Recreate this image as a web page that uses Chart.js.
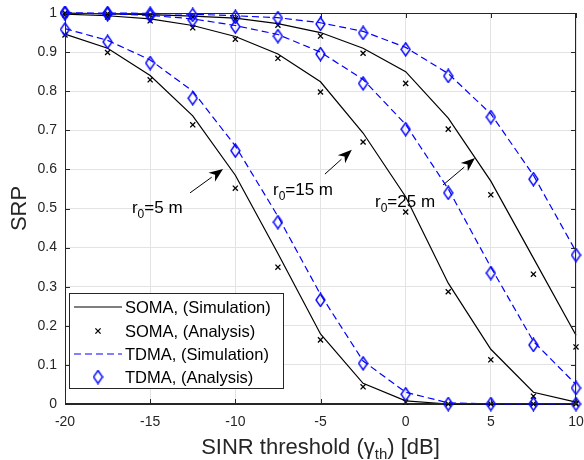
<!DOCTYPE html>
<html>
<head>
<meta charset="utf-8">
<script src="https://cdn.jsdelivr.net/npm/chart.js@4.4.0/dist/chart.umd.min.js"></script>
<style>
  html, body { margin: 0; padding: 0; background: #fff; }
  #wrap { width: 584px; height: 460px; }
</style>
</head>
<body>
<div id="wrap"><canvas id="c" width="584" height="460"></canvas></div>
<script>
// SINR threshold grid (dB)
const sinrDb = [-20, -17.5, -15, -12.5, -10, -7.5, -5, -2.5, 0, 2.5, 5, 7.5, 10];

// SOMA, simulation (solid lines)
const somaSimR5  = [0.946, 0.910, 0.840, 0.737, 0.585, 0.385, 0.179, 0.053, 0.008, 0.000, 0.000, 0.000, 0.000];
const somaSimR15 = [0.997, 0.993, 0.985, 0.968, 0.940, 0.895, 0.824, 0.693, 0.530, 0.309, 0.140, 0.030, 0.005];
const somaSimR25 = [1.000, 0.998, 0.996, 0.992, 0.987, 0.973, 0.950, 0.910, 0.850, 0.731, 0.570, 0.373, 0.176];

// SOMA, analysis (x markers)
const somaAnaR5  = [0.944, 0.899, 0.829, 0.714, 0.552, 0.350, 0.164, 0.044, 0.005, 0.000, 0.000, 0.000, 0.000];
const somaAnaR15 = [0.995, 0.990, 0.980, 0.962, 0.933, 0.884, 0.798, 0.670, 0.491, 0.287, 0.113, 0.020, 0.002];
const somaAnaR25 = [1.000, 0.998, 0.995, 0.990, 0.985, 0.969, 0.941, 0.897, 0.820, 0.703, 0.535, 0.332, 0.146];

// TDMA, simulation (dashed lines)
const tdmaSimR5  = [0.960, 0.930, 0.880, 0.800, 0.660, 0.480, 0.280, 0.110, 0.030, 0.003, 0.000, 0.000, 0.000];
const tdmaSimR15 = [1.000, 0.998, 0.994, 0.985, 0.968, 0.945, 0.900, 0.830, 0.715, 0.550, 0.350, 0.160, 0.050];
const tdmaSimR25 = [1.000, 1.000, 0.999, 0.997, 0.993, 0.988, 0.975, 0.953, 0.912, 0.845, 0.742, 0.585, 0.390];

// TDMA, analysis (diamond markers)
const tdmaAnaR5  = [0.958, 0.926, 0.872, 0.782, 0.648, 0.465, 0.266, 0.104, 0.025, 0.000, 0.000, 0.000, 0.000];
const tdmaAnaR15 = [1.000, 0.997, 0.993, 0.982, 0.965, 0.941, 0.895, 0.820, 0.703, 0.540, 0.335, 0.151, 0.041];
const tdmaAnaR25 = [1.000, 1.000, 0.998, 0.995, 0.990, 0.987, 0.972, 0.949, 0.907, 0.839, 0.734, 0.575, 0.381];

// Axis ticks and labels
const xTickValues = [-20, -15, -10, -5, 0, 5, 10];
const yTickLabels = ['0', '0.1', '0.2', '0.3', '0.4', '0.5', '0.6', '0.7', '0.8', '0.9', '1'];
const legendLabels = ['SOMA, (Simulation)', 'SOMA, (Analysis)', 'TDMA, (Simulation)', 'TDMA, (Analysis)'];
const radiusLabels = ['5 m', '15 m', '25 m'];

// Label / arrow placement in data coordinates
const radiusNotes = [
  { text: radiusLabels[0], at: [-16.07, 0.504], tail: [-12.66, 0.540], tip: [-10.72, 0.601] },
  { text: radiusLabels[1], at: [-7.79, 0.550], tail: [-4.74, 0.588], tip: [-3.16, 0.650] },
  { text: radiusLabels[2], at: [-1.80, 0.519], tail: [2.19, 0.560], tip: [4.07, 0.629] }
];

const FONT = '"Liberation Sans", Arial, Helvetica, sans-serif';
const AXIS_COLOR = '#262626';
const BLUE = '#0000ff';

function pts(ys) { return sinrDb.map((x, i) => ({ x: x, y: ys[i] })); }

// Tall diamond marker
function makeDiamond() {
  const w = 11, h = 15;
  const cv = document.createElement('canvas');
  cv.width = w; cv.height = h;
  const g = cv.getContext('2d');
  g.strokeStyle = BLUE;
  g.lineWidth = 1.4;
  g.beginPath();
  g.moveTo(w / 2, 1);
  g.lineTo(w - 1, h / 2);
  g.lineTo(w / 2, h - 1);
  g.lineTo(1, h / 2);
  g.closePath();
  g.stroke();
  return cv;
}
const diamond = makeDiamond();

function simLine(ys, color, dashed) {
  return {
    data: pts(ys), borderColor: color, borderWidth: 1.2, pointRadius: 0,
    borderDash: dashed ? [7, 4] : [], fill: false, tension: 0,
    order: dashed ? 1 : 3, clip: false
  };
}
function somaMarks(ys) {
  return {
    data: pts(ys), showLine: false, pointStyle: 'crossRot', pointRadius: 3.6,
    pointBorderColor: '#000', pointBorderWidth: 1.3, borderColor: '#000',
    order: 2, clip: false
  };
}
function tdmaMarks(ys) {
  return {
    data: pts(ys), showLine: false, pointStyle: diamond, pointRadius: 6,
    borderColor: BLUE, order: 0, clip: false
  };
}

const datasets = [
  simLine(somaSimR5, '#000', false), simLine(somaSimR15, '#000', false), simLine(somaSimR25, '#000', false),
  somaMarks(somaAnaR5), somaMarks(somaAnaR15), somaMarks(somaAnaR25),
  simLine(tdmaSimR5, BLUE, true), simLine(tdmaSimR15, BLUE, true), simLine(tdmaSimR25, BLUE, true),
  tdmaMarks(tdmaAnaR5), tdmaMarks(tdmaAnaR15), tdmaMarks(tdmaAnaR25)
];

// Box, inner ticks, axis titles, radius notes and legend
const decorations = {
  id: 'decorations',
  afterDatasetsDraw(chart) {
    const ctx = chart.ctx;
    const a = chart.chartArea;
    const xs = chart.scales.x, ys = chart.scales.y;
    ctx.save();

    // frame
    ctx.strokeStyle = AXIS_COLOR;
    ctx.lineWidth = 1;
    ctx.strokeRect(a.left + 0.5, a.top + 0.5, a.right - a.left - 1, a.bottom - a.top - 1);

    // inward tick marks on all four sides
    const tl = 5;
    ctx.beginPath();
    xTickValues.forEach(v => {
      const px = Math.round(xs.getPixelForValue(v)) + 0.5;
      ctx.moveTo(px, a.bottom); ctx.lineTo(px, a.bottom - tl);
      ctx.moveTo(px, a.top); ctx.lineTo(px, a.top + tl);
    });
    yTickLabels.forEach((_, i) => {
      const py = Math.round(ys.getPixelForValue(i / 10)) + 0.5;
      ctx.moveTo(a.left, py); ctx.lineTo(a.left + tl, py);
      ctx.moveTo(a.right, py); ctx.lineTo(a.right - tl, py);
    });
    ctx.stroke();

    // x-axis title with subscript
    ctx.fillStyle = AXIS_COLOR;
    ctx.textBaseline = 'alphabetic';
    const big = '22px ' + FONT, small = '15px ' + FONT;
    const parts = [['SINR threshold (\u03B3', big, 0], ['th', small, 5], [') [dB]', big, 0]];
    let total = 0;
    parts.forEach(p => { ctx.font = p[1]; total += ctx.measureText(p[0]).width; });
    let cx = (a.left + a.right) / 2 - total / 2;
    const base = 454;
    parts.forEach(p => {
      ctx.font = p[1];
      ctx.textAlign = 'left';
      ctx.fillText(p[0], cx, base + p[2]);
      cx += ctx.measureText(p[0]).width;
    });

    // y-axis title
    ctx.save();
    ctx.translate(20, (a.top + a.bottom) / 2);
    ctx.rotate(-Math.PI / 2);
    ctx.font = big;
    ctx.textAlign = 'center';
    ctx.textBaseline = 'middle';
    ctx.fillText('SRP', 0, 0);
    ctx.restore();

    // radius notes with arrows
    ctx.fillStyle = '#000';
    ctx.strokeStyle = '#000';
    radiusNotes.forEach(n => {
      const tx = xs.getPixelForValue(n.at[0]);
      const ty = ys.getPixelForValue(n.at[1]) + 6;
      const segs = [['r', '17px ' + FONT, 0], ['0', '12px ' + FONT, 5], ['=' + n.text, '17px ' + FONT, 0]];
      let x = tx;
      ctx.textAlign = 'left';
      ctx.textBaseline = 'alphabetic';
      segs.forEach(s => {
        ctx.font = s[1];
        ctx.fillText(s[0], x, ty + s[2]);
        x += ctx.measureText(s[0]).width;
      });
      const x0 = xs.getPixelForValue(n.tail[0]), y0 = ys.getPixelForValue(n.tail[1]);
      const x1 = xs.getPixelForValue(n.tip[0]), y1 = ys.getPixelForValue(n.tip[1]);
      const ang = Math.atan2(y1 - y0, x1 - x0);
      const hl = 14, hw = 5.5;
      const bx = x1 - hl * Math.cos(ang), by = y1 - hl * Math.sin(ang);
      ctx.lineWidth = 1;
      ctx.beginPath(); ctx.moveTo(x0, y0); ctx.lineTo(bx, by); ctx.stroke();
      ctx.beginPath();
      ctx.moveTo(x1, y1);
      ctx.lineTo(bx + hw * Math.sin(ang), by - hw * Math.cos(ang));
      ctx.lineTo(x1 - hl * 0.7 * Math.cos(ang), y1 - hl * 0.7 * Math.sin(ang));
      ctx.lineTo(bx - hw * Math.sin(ang), by + hw * Math.cos(ang));
      ctx.closePath();
      ctx.fill();
    });

    // legend
    const lx = 69, ly = 293, lw = 214, lh = 95;
    ctx.fillStyle = '#fff';
    ctx.fillRect(lx, ly, lw, lh);
    ctx.strokeStyle = AXIS_COLOR;
    ctx.lineWidth = 1;
    ctx.strokeRect(lx + 0.5, ly + 0.5, lw, lh);
    const rows = [307, 331, 354, 377];
    ctx.font = '16.5px ' + FONT;
    ctx.textAlign = 'left';
    ctx.textBaseline = 'middle';
    rows.forEach((ry, i) => {
      ctx.fillStyle = '#000';
      ctx.fillText(legendLabels[i], 125, ry + 1);
      if (i === 0 || i === 2) {
        ctx.strokeStyle = i === 0 ? '#000' : BLUE;
        ctx.lineWidth = 1.2;
        ctx.setLineDash(i === 2 ? [7, 4] : []);
        ctx.beginPath(); ctx.moveTo(74, ry); ctx.lineTo(122, ry); ctx.stroke();
        ctx.setLineDash([]);
      } else if (i === 1) {
        ctx.strokeStyle = '#000';
        ctx.lineWidth = 1.3;
        const r = 2.6;
        ctx.beginPath();
        ctx.moveTo(98 - r, ry - r); ctx.lineTo(98 + r, ry + r);
        ctx.moveTo(98 + r, ry - r); ctx.lineTo(98 - r, ry + r);
        ctx.stroke();
      } else {
        ctx.drawImage(diamond, 98 - diamond.width / 2, ry - diamond.height / 2);
      }
    });
    ctx.restore();
  }
};

new Chart(document.getElementById('c'), {
  type: 'line',
  data: { datasets: datasets },
  options: {
    responsive: false,
    devicePixelRatio: 1,
    animation: false,
    layout: { autoPadding: false, padding: { top: 13, right: 8, left: 0, bottom: 0 } },
    plugins: { legend: { display: false }, tooltip: { enabled: false } },
    scales: {
      x: {
        type: 'linear', min: -20, max: 10,
        afterFit: s => { s.height = 56; s.paddingLeft = 0; s.paddingRight = 0; },
        afterBuildTicks: s => { s.ticks = xTickValues.map(v => ({ value: v })); },
        ticks: { color: AXIS_COLOR, font: { family: FONT, size: 14 }, padding: 10, maxRotation: 0,
                 callback: v => String(v) },
        grid: { color: '#e3e3e3', lineWidth: 1, drawTicks: false },
        border: { color: AXIS_COLOR, width: 1 }
      },
      y: {
        min: 0, max: 1,
        afterFit: s => { s.width = 65; s.paddingTop = 0; s.paddingBottom = 0; },
        afterBuildTicks: s => { s.ticks = yTickLabels.map((_, i) => ({ value: i / 10 })); },
        ticks: { color: AXIS_COLOR, font: { family: FONT, size: 14 }, padding: 8,
                 callback: (v) => yTickLabels[Math.round(v * 10)] },
        grid: { color: '#e3e3e3', lineWidth: 1, drawTicks: false },
        border: { color: AXIS_COLOR, width: 1 }
      }
    }
  },
  plugins: [decorations]
});
</script>
</body>
</html>
